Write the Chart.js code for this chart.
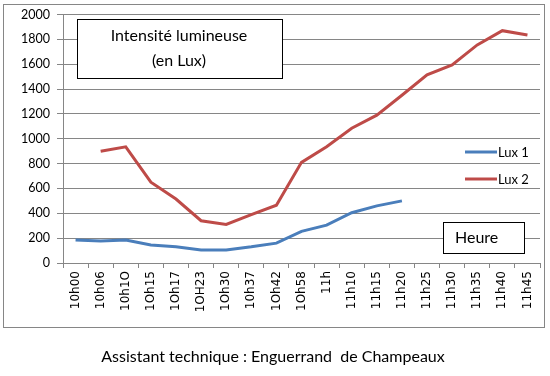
<!DOCTYPE html>
<html>
<head>
<meta charset="utf-8">
<script src="https://cdn.jsdelivr.net/npm/chart.js@4/dist/chart.umd.min.js"></script>
<style>
html,body{margin:0;padding:0;background:#fff;}
#wrap{position:relative;width:550px;height:376px;}
</style>
</head>
<body>
<div id="wrap"><canvas id="c" width="550" height="376"></canvas></div>
<script>
const categories = ["10h00","10h06","10h1O","1Oh15","1Oh17","1OH23","1Oh30","10h37","1Oh42","1Oh58","11h","11h10","11h15","11h20","11h25","11h30","11h35","11h40","11h45"];
const lux1 = [185,178,185,145,130,105,105,130,160,255,305,405,460,500,null,null,null,null,null];
const lux2 = [null,900,935,650,515,340,310,390,465,810,935,1085,1190,1350,1515,1595,1755,1870,1835];
const yTicks = {min:0, max:2000, step:200};
const titleLines = ["Intensité lumineuse","(en Lux)"];
const axisNote = "Heure";
const caption = "Assistant technique : Enguerrand  de Champeaux";

const GRID = '#868686';
const CAL = 'Lato, "Open Sans", sans-serif';

const decor = {
  id:'decor',
  beforeDraw(chart){
    const ctx = chart.ctx;
    ctx.save();
    ctx.fillStyle='#fff';
    ctx.fillRect(0,0,chart.width,chart.height);
    ctx.restore();
  },
  afterDraw(chart){
    const ctx = chart.ctx;
    ctx.save();
    ctx.strokeStyle=GRID; ctx.lineWidth=1;
    ctx.strokeRect(3.5,4.5,541,323);
    ctx.fillStyle='#fff';
    ctx.fillRect(77.5,19.5,205,59);
    ctx.strokeStyle='#000';
    ctx.strokeRect(77.5,19.5,205,59);
    ctx.fillStyle='#000';
    ctx.font='16px '+CAL;
    ctx.textAlign='center'; ctx.textBaseline='middle';
    ctx.fillText(titleLines[0],179,36);
    ctx.fillText(titleLines[1],179,61);
    ctx.fillStyle='#fff';
    ctx.fillRect(443.5,222.5,81,31);
    ctx.strokeStyle='#000';
    ctx.strokeRect(443.5,222.5,81,31);
    ctx.fillStyle='#000';
    ctx.textAlign='left';
    ctx.font='16px '+CAL;
    ctx.fillText(axisNote,455,238);
    const ds = chart.data.datasets;
    const ly=[152,179];
    ctx.font='13px '+CAL;
    ds.forEach((d,i)=>{
      ctx.strokeStyle=d.borderColor; ctx.lineWidth=3;
      ctx.beginPath(); ctx.moveTo(465,ly[i]); ctx.lineTo(497,ly[i]); ctx.stroke();
      ctx.fillStyle='#000';
      ctx.fillText(d.label,498,ly[i]+1);
    });
    ctx.font='16px '+CAL;
    ctx.textAlign='center';
    ctx.fillText(caption,273,357);
    ctx.restore();
  }
};

new Chart(document.getElementById('c'),{
  type:'line',
  data:{
    labels:categories,
    datasets:[
      {label:'Lux 1',data:lux1,borderColor:'#4A7EBB',backgroundColor:'#4A7EBB',borderWidth:3,pointRadius:0,tension:0,spanGaps:false},
      {label:'Lux 2',data:lux2,borderColor:'#BE4B48',backgroundColor:'#BE4B48',borderWidth:3,pointRadius:0,tension:0,spanGaps:false}
    ]
  },
  options:{
    responsive:false,
    animation:false,
    events:[],
    layout:{padding:{left:0,top:13,right:10,bottom:0}},
    plugins:{legend:{display:false},tooltip:{enabled:false},title:{display:false}},
    scales:{
      x:{
        offset:true,
        grid:{display:true,drawOnChartArea:false,offset:true,color:GRID,tickLength:5},
        border:{display:true,color:GRID},
        ticks:{autoSkip:false,minRotation:90,maxRotation:90,color:'#000',padding:3,font:{family:'"DejaVu Sans"',size:12}},
        afterFit(s){s.height=113;}
      },
      y:{
        min:yTicks.min,max:yTicks.max,
        grid:{color:GRID,tickLength:6},
        border:{display:true,color:GRID},
        ticks:{stepSize:yTicks.step,color:'#000',padding:7,font:{family:CAL,size:12.5},callback:(v)=>String(v)},
        afterFit(s){s.width=63;}
      }
    }
  },
  plugins:[decor]
});
</script>
</body>
</html>
